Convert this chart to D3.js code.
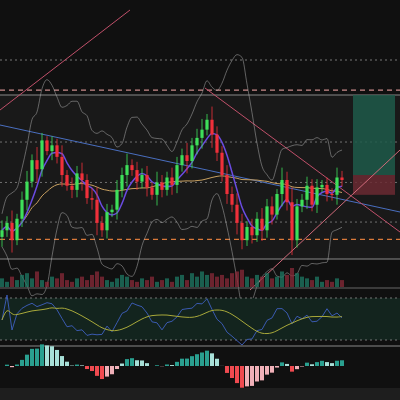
<!DOCTYPE html>
<html><head><meta charset="utf-8">
<script src="https://cdn.jsdelivr.net/npm/d3@7"></script>
<style>body{margin:0;background:#131313}svg{display:block}</style>
</head><body>
<script>
var closes = [93.6,94.5,92.4,95.0,97.3,99.5,102.1,101.0,104.5,103.2,103.9,102.5,100.3,99.0,98.5,100.5,99.7,97.5,97.3,94.5,
  93.6,95.8,96.1,98.5,100.3,101.5,100.9,99.5,100.3,98.8,97.9,99.4,98.5,100.0,99.1,101.5,102.7,102.0,103.9,104.8,
  105.8,107.0,105.2,103.0,100.3,98.0,96.7,94.5,92.4,94.0,93.0,95.0,93.6,96.5,95.5,98.0,99.7,97.0,92.4,96.5,
  97.3,99.0,96.7,98.8,99.1,98.0,97.9,100.0,99.7];
var wicks = [1.2,0.8,1.5,0.6,1.0,1.3,0.7,1.6,0.9,0.5,1.1,0.8,1.4,0.6,1.0,0.9,1.3,0.7,1.2,1.5,
  0.8,1.0,0.6,1.2,0.9,1.4,0.7,1.0,0.8,1.1,0.6,1.3,0.9,0.7,1.2,1.0,0.8,1.5,0.9,1.1,
  1.3,0.7,1.6,1.0,0.8,1.2,0.9,1.4,1.1,0.7,1.0,0.8,1.3,0.9,1.2,0.6,1.5,1.0,1.8,0.9,
  0.7,1.1,0.8,1.0,0.6,0.9,0.7,1.2,0.8];
var volumes = [5,3,6,4,7,8,5,9,4,3,6,5,8,4,3,5,6,4,7,9,6,4,3,5,7,6,4,3,5,4,6,3,4,5,3,6,7,4,8,6,
  9,7,8,6,7,5,8,9,10,6,5,7,6,8,5,6,9,7,11,8,6,5,4,6,3,4,3,5,4];
var gridPrices = [94.6, 99.4, 104.3];
var refLines = [{p:110.6, c:'#c98a8a'}, {p:92.5, c:'#d9793a'}];

var W = 400, H = 400;
var svg = d3.select('body').append('svg').attr('width', W).attr('height', H)
  .style('background', '#101010');

var x = d3.scaleLinear().domain([0, closes.length - 1]).range([2, 342]);
var y = d3.scaleLinear().domain([90, 110]).range([260, 95]);

// price panel frame
svg.append('rect').attr('x', 0).attr('y', 95).attr('width', W).attr('height', 164)
  .attr('fill', '#191919');
svg.append('line').attr('x1', 0).attr('x2', W).attr('y1', 95).attr('y2', 95).attr('stroke', '#888');
svg.append('line').attr('x1', 0).attr('x2', W).attr('y1', 259).attr('y2', 259).attr('stroke', '#888');
gridPrices.forEach(function(p){
  svg.append('line').attr('x1', 0).attr('x2', W).attr('y1', y(p)).attr('y2', y(p))
    .attr('stroke', '#aaa').attr('stroke-dasharray', '2,3').attr('opacity', 0.6);
});
refLines.forEach(function(r){
  svg.append('line').attr('x1', 0).attr('x2', W).attr('y1', y(r.p)).attr('y2', y(r.p))
    .attr('stroke', r.c).attr('stroke-dasharray', '5,4').attr('stroke-width', 1.3);
});
svg.append('line').attr('x1', 0).attr('x2', W).attr('y1', 60).attr('y2', 60)
  .attr('stroke', '#777').attr('stroke-dasharray', '2,3');

// target/stop zones
svg.append('rect').attr('x', 353).attr('y', 95).attr('width', 42).attr('height', y(100.3) - 95)
  .attr('fill', '#1f5b4a').attr('opacity', 0.85);
svg.append('rect').attr('x', 353).attr('y', y(100.3)).attr('width', 42).attr('height', y(97.9) - y(100.3))
  .attr('fill', '#6b2a33').attr('opacity', 0.85);

// trend lines
var tl = [[0,110,130,10,'#c0506a'],[0,125,400,212,'#4a6fc0'],[205,88,400,232,'#c0506a'],[250,290,400,150,'#d06a7a']];
tl.forEach(function(t){
  svg.append('line').attr('x1', t[0]).attr('y1', t[1]).attr('x2', t[2]).attr('y2', t[3])
    .attr('stroke', t[4]).attr('stroke-width', 1);
});

function sma(a, n){ return a.map(function(v,i){ return d3.mean(a.slice(Math.max(0,i-n+1), i+1)); }); }
function stdev(a, n){ return a.map(function(v,i){ return d3.deviation(a.slice(Math.max(0,i-n+1), i+1)) || 0; }); }
var line = d3.line().x(function(d,i){ return x(i); }).y(function(d){ return y(d); }).curve(d3.curveMonotoneX);

// envelopes
var m20 = sma(closes, 8), sd = stdev(closes, 8);
svg.append('path').attr('d', line(m20.map(function(m,i){ return m + 2.5*sd[i] + 2; })))
  .attr('fill', 'none').attr('stroke', '#bbb').attr('stroke-width', 0.8).attr('opacity', 0.6);
svg.append('path').attr('d', line(m20.map(function(m,i){ return m - 2.5*sd[i] - 2; })))
  .attr('fill', 'none').attr('stroke', '#bbb').attr('stroke-width', 0.8).attr('opacity', 0.6);
svg.append('path').attr('d', line(sma(closes, 30))).attr('fill', 'none')
  .attr('stroke', '#c8a060').attr('stroke-width', 1);
svg.append('path').attr('d', line(sma(closes, 5))).attr('fill', 'none')
  .attr('stroke', '#6a4be0').attr('stroke-width', 1.5);

// candles
var cw = 3.2;
closes.forEach(function(c, i){
  var o = i ? closes[i-1] : c - 0.8;
  var up = c >= o, col = up ? '#3ee05a' : '#f0303a';
  svg.append('line').attr('x1', x(i)).attr('x2', x(i))
    .attr('y1', y(Math.max(o,c) + wicks[i])).attr('y2', y(Math.min(o,c) - wicks[i]))
    .attr('stroke', col).attr('stroke-width', 0.8);
  svg.append('rect').attr('x', x(i) - cw/2).attr('width', cw)
    .attr('y', y(Math.max(o,c))).attr('height', Math.max(1, Math.abs(y(o) - y(c))))
    .attr('fill', col);
});

// volume
var yv = d3.scaleLinear().domain([0, 11]).range([287, 268]);
volumes.forEach(function(v, i){
  var up = closes[i] >= (i ? closes[i-1] : 0);
  svg.append('rect').attr('x', x(i) - 2).attr('width', 4).attr('y', yv(v)).attr('height', 287 - yv(v))
    .attr('fill', up ? '#1e7a64' : '#8a2a38').attr('opacity', 0.75);
});
svg.append('line').attr('x1', 0).attr('x2', W).attr('y1', 288).attr('y2', 288).attr('stroke', '#666');

// RSI
svg.append('rect').attr('x', 0).attr('y', 298).attr('width', W).attr('height', 42).attr('fill', '#13241e');
[298, 340].forEach(function(yy){
  svg.append('line').attr('x1', 0).attr('x2', W).attr('y1', yy).attr('y2', yy)
    .attr('stroke', '#777').attr('stroke-dasharray', '2,3');
});
var rsi = closes.map(function(c,i){
  var g = 0, l = 0;
  for (var k = Math.max(1, i-6); k <= i; k++){ var d = closes[k] - closes[k-1]; if (d > 0) g += d; else l -= d; }
  return g + l ? 100 * g / (g + l) : 50;
});
var yr = d3.scaleLinear().domain([0, 100]).range([345, 295]);
var rl = d3.line().x(function(d,i){ return x(i); }).y(function(d){ return yr(d); });
svg.append('path').attr('d', rl(rsi)).attr('fill', 'none').attr('stroke', '#3a5ab0').attr('stroke-width', 1);
svg.append('path').attr('d', rl.curve(d3.curveBasis)(sma(rsi, 10))).attr('fill', 'none')
  .attr('stroke', '#a8a83a').attr('stroke-width', 1);
svg.append('line').attr('x1', 0).attr('x2', W).attr('y1', 346).attr('y2', 346).attr('stroke', '#888');

// MACD histogram
function ema(a, n){ var k = 2/(n+1), out = [a[0]]; for (var i = 1; i < a.length; i++) out.push(a[i]*k + out[i-1]*(1-k)); return out; }
var e1 = ema(closes, 4), e2 = ema(closes, 12);
var macd = e1.map(function(v,i){ return v - e2[i]; });
var ym = d3.scaleLinear().domain([-3, 3]).range([384, 348]);
macd.forEach(function(h, i){
  var rising = i && Math.abs(h) > Math.abs(macd[i-1]);
  var col = h >= 0 ? (rising ? '#2aa090' : '#a8e0d8') : (rising ? '#f04a50' : '#f0b0b8');
  svg.append('rect').attr('x', x(i) - 2).attr('width', 4)
    .attr('y', ym(Math.max(0, h))).attr('height', Math.abs(ym(h) - ym(0))).attr('fill', col);
});
svg.append('rect').attr('x', 0).attr('y', 388).attr('width', W).attr('height', 12).attr('fill', '#1e1e1e');
</script>
</body></html>
